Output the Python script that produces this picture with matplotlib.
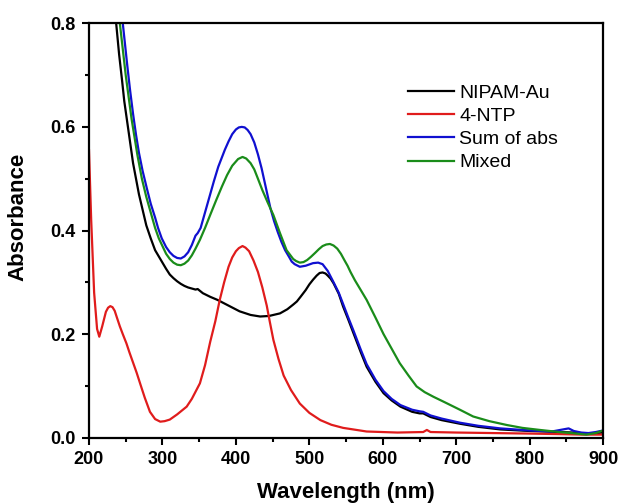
import matplotlib
matplotlib.use("Agg")
import matplotlib.pyplot as plt
from matplotlib.ticker import MultipleLocator

plt.rcParams["font.family"] = ["Liberation Sans", "DejaVu Sans"]

# NIPAM-Au
black_x = [237, 241, 245, 248, 252, 256, 260, 264, 268, 273, 278, 284, 290, 295, 300,
           305, 310, 315, 320, 325, 330, 335, 340, 345, 348, 355, 365, 375, 390, 405,
           420, 433, 445, 460, 470, 478, 483, 488, 495, 500, 505, 510, 514, 518, 522,
           525, 529, 533, 540, 546, 553, 560, 570, 578, 590, 601, 612, 624, 640, 650,
           655, 665, 680, 705, 730, 760, 800, 840, 860, 880, 900]
black_y = [0.80, 0.74, 0.69, 0.65, 0.61, 0.57, 0.53, 0.50, 0.47, 0.44, 0.41, 0.385,
           0.362, 0.35, 0.338, 0.326, 0.315, 0.308, 0.302, 0.297, 0.293, 0.29, 0.288,
           0.286, 0.287, 0.279, 0.272, 0.266, 0.255, 0.244, 0.237, 0.234, 0.235, 0.240,
           0.248, 0.257, 0.263, 0.272, 0.285, 0.296, 0.305, 0.313, 0.318, 0.319, 0.317,
           0.313, 0.307, 0.298, 0.278, 0.253, 0.228, 0.202, 0.165, 0.137, 0.108, 0.086,
           0.072, 0.060, 0.050, 0.047, 0.047, 0.040, 0.034, 0.027, 0.021, 0.016, 0.013,
           0.011, 0.010, 0.008, 0.010]

# 4-NTP
red_x = [200, 203, 207, 211, 214, 218, 223, 226, 229, 232, 235, 238, 242, 246, 251,
         255, 260, 265, 270, 276, 283, 290, 297, 303, 310, 320, 333, 340, 351, 358,
         365, 372, 378, 384, 390, 395, 400, 404, 409, 413, 418, 424, 430, 436, 442,
         446, 451, 458, 465, 475, 487, 500, 515, 530, 546, 578, 620, 655, 660, 665,
         700, 750, 800, 840, 870, 900]
red_y = [0.555, 0.42, 0.28, 0.21, 0.195, 0.215, 0.243, 0.251, 0.254, 0.252, 0.245,
         0.232, 0.215, 0.2, 0.182, 0.165, 0.145, 0.125, 0.103, 0.077, 0.050, 0.036,
         0.031, 0.032, 0.035, 0.045, 0.060, 0.075, 0.105, 0.14, 0.185, 0.225, 0.266,
         0.30, 0.33, 0.348, 0.36, 0.366, 0.370, 0.367, 0.36, 0.342, 0.32, 0.29, 0.255,
         0.225, 0.189, 0.152, 0.12, 0.092, 0.066, 0.048, 0.034, 0.025, 0.019, 0.012,
         0.010, 0.011, 0.015, 0.011, 0.010, 0.009, 0.008, 0.007, 0.006, 0.006]

# Sum of abs
blue_x = [246, 252, 256, 260, 264, 268, 273, 279, 284, 290, 294, 299, 305, 310, 315,
          320, 325, 330, 335, 340, 345, 348, 352, 362, 370, 376, 385, 390, 395, 400,
          404, 408, 412, 416, 420, 425, 430, 435, 442, 447, 452, 457, 462, 467, 472,
          476, 480, 487, 495, 505, 512, 518, 525, 533, 540, 546, 553, 560, 570, 578,
          590, 601, 612, 624, 640, 650, 655, 665, 680, 705, 730, 760, 800, 830, 853,
          860, 870, 880, 890, 900]
blue_y = [0.80, 0.72, 0.67, 0.625, 0.585, 0.55, 0.515, 0.48, 0.452, 0.425, 0.405,
          0.385, 0.368, 0.358, 0.351, 0.347, 0.346, 0.35, 0.358, 0.372, 0.39, 0.395,
          0.405, 0.455, 0.495, 0.523, 0.556, 0.572, 0.586, 0.595, 0.599, 0.600, 0.599,
          0.594, 0.586, 0.57, 0.547, 0.52, 0.475, 0.443, 0.418, 0.397, 0.378, 0.362,
          0.35, 0.34, 0.335, 0.330, 0.332, 0.337, 0.338, 0.335, 0.322, 0.300, 0.280,
          0.258, 0.232, 0.207, 0.170, 0.142, 0.112, 0.090, 0.075, 0.063, 0.054, 0.051,
          0.050, 0.043, 0.037, 0.029, 0.023, 0.018, 0.014, 0.012, 0.018, 0.013, 0.010,
          0.009, 0.011, 0.014]

# Mixed
green_x = [242, 250, 258, 266, 272, 278, 284, 290, 295, 300, 305, 310, 315, 320, 325,
           330, 335, 340, 345, 351, 358, 365, 373, 381, 388, 395, 403, 409, 414, 420,
           425, 430, 436, 443, 451, 460, 469, 478, 482, 487, 492, 497, 502, 508, 513,
           518, 523, 528, 533, 538, 543, 548, 552, 556, 562, 578, 590, 601, 612, 623,
           635, 646, 657, 669, 685, 705, 723, 745, 769, 790, 814, 840, 860, 877, 890,
           900]
green_y = [0.80, 0.70, 0.615, 0.545, 0.50, 0.465, 0.435, 0.405, 0.385, 0.37, 0.355,
           0.345, 0.338, 0.334, 0.333, 0.336, 0.342, 0.352, 0.365, 0.382, 0.405, 0.43,
           0.458, 0.485, 0.507, 0.525, 0.538, 0.542, 0.539, 0.53, 0.518, 0.50, 0.478,
           0.455, 0.43, 0.395, 0.362, 0.345, 0.341, 0.338, 0.339, 0.343, 0.349, 0.357,
           0.364, 0.370, 0.373, 0.374, 0.371, 0.365, 0.355, 0.342, 0.332, 0.320, 0.304,
           0.266, 0.232, 0.200, 0.172, 0.144, 0.12, 0.099, 0.088, 0.079, 0.068, 0.054,
           0.041, 0.032, 0.0245, 0.019, 0.015, 0.011, 0.0085, 0.006, 0.009, 0.014]

fig = plt.figure(figsize=(6.18, 5.04), dpi=100)
ax = fig.add_axes([0.144, 0.1315, 0.832, 0.8223])

lw = 1.6
ax.plot(black_x, black_y, color="#000000", lw=lw, label="NIPAM-Au")
ax.plot(red_x, red_y, color="#e01c1c", lw=lw, label="4-NTP")
ax.plot(blue_x, blue_y, color="#1010d0", lw=lw, label="Sum of abs")
ax.plot(green_x, green_y, color="#1a8c1a", lw=lw, label="Mixed")

ax.set_xlim(200, 900)
ax.set_ylim(0, 0.8)
ax.xaxis.set_major_locator(MultipleLocator(100))
ax.xaxis.set_minor_locator(MultipleLocator(50))
ax.yaxis.set_major_locator(MultipleLocator(0.2))
ax.yaxis.set_minor_locator(MultipleLocator(0.1))
ax.tick_params(which="both", direction="out", width=1.5, top=False, right=False)
ax.tick_params(which="major", length=5, labelsize=13, pad=4.5)
ax.tick_params(which="minor", length=3)
for lab in ax.get_xticklabels() + ax.get_yticklabels():
    lab.set_fontweight("bold")
for sp in ax.spines.values():
    sp.set_linewidth(1.6)

ax.set_xlabel("Wavelength (nm)", fontsize=16, fontweight="bold", labelpad=10)
ax.set_ylabel("Absorbance", fontsize=16, fontweight="bold")
ax.yaxis.set_label_coords(-0.117, 0.534)

ax.legend(loc="upper left", bbox_to_anchor=(0.6206, 0.8535), frameon=False,
          fontsize=14, borderpad=0, borderaxespad=0, handlelength=2.37,
          handletextpad=0.26, labelspacing=0.29)

fig.savefig("out.png", dpi=100)
